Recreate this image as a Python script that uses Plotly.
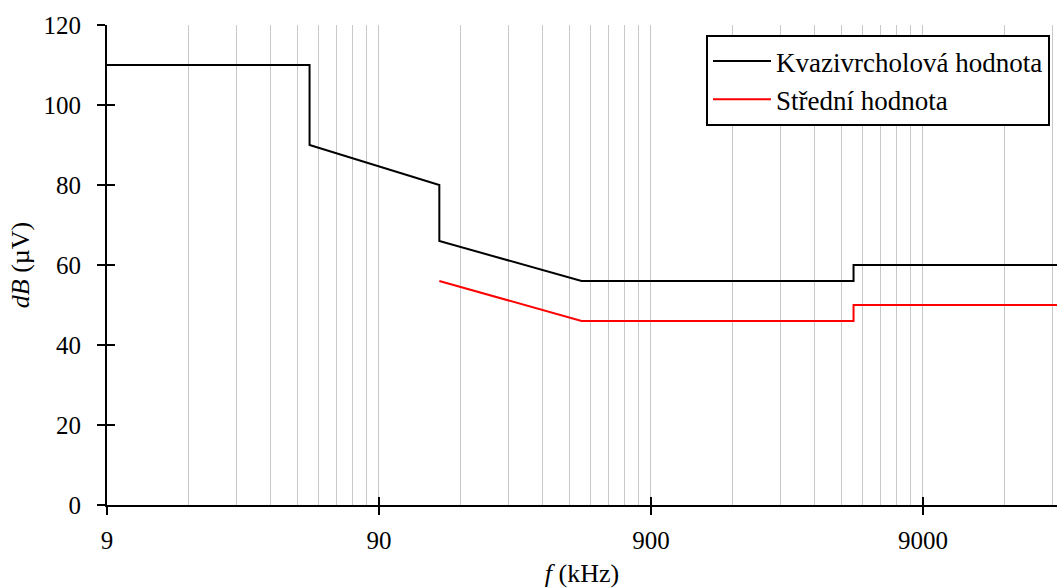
import numpy as np
import plotly.graph_objects as go

# Data (frequency in kHz, level in dB(µV))
qp_freq = [9, 50, 50, 150, 150, 500, 5000, 5000, 30000]
qp_level = [110, 110, 90, 80, 66, 56, 56, 60, 60]
avg_freq = [150, 500, 5000, 5000, 30000]
avg_level = [56, 46, 46, 50, 50]
qp_name = "Kvazivrcholová hodnota"
avg_name = "Střední hodnota"
x_major = [9, 90, 900, 9000]
y_ticks = [0, 20, 40, 60, 80, 100, 120]
x_minor = [9 * k * 10 ** n for n in range(4) for k in range(2, 10)]

FONT = "Liberation Serif"
FS = 25
xr = [np.log10(9), 4.447]
yr = [0, 120]

fig = go.Figure()
fig.add_trace(go.Scatter(x=qp_freq, y=qp_level, mode="lines", name=qp_name,
                         line=dict(color="black", width=2), legendgroup="a"))
fig.add_trace(go.Scatter(x=avg_freq, y=avg_level, mode="lines", name=avg_name,
                         line=dict(color="#ff0000", width=2), legendgroup="b",
                         xaxis="x2", yaxis="y2"))

fig.update_layout(
    width=1057, height=588,
    margin=dict(l=107, r=0, t=25, b=83, autoexpand=False),
    paper_bgcolor="white", plot_bgcolor="white",
    font=dict(family=FONT, size=FS, color="black"),
    showlegend=True,
    legend=dict(x=(706 - 107) / 950, y=1 - 10 / 480, xref="paper", yref="paper",
                xanchor="left", yanchor="top",
                bordercolor="black", borderwidth=2, bgcolor="white",
                font=dict(family=FONT, size=27), tracegroupgap=0,
                itemwidth=58),
    xaxis=dict(type="log", range=xr, tickvals=x_major, ticktext=[str(v) for v in x_major],
               showgrid=True, gridcolor="#c8c8c8", gridwidth=1,
               minor=dict(tickvals=x_minor, showgrid=True, gridcolor="#c8c8c8", gridwidth=1, ticks=""),
               showline=True, linecolor="black", linewidth=2,
               ticks="outside", ticklen=8, tickwidth=2, tickcolor="black",
               ticklabelstandoff=4,
               zeroline=False,
               title=dict(text="<i>f</i> (kHz)", font=dict(family=FONT, size=26))),
    yaxis=dict(range=yr, tickvals=y_ticks, showgrid=False,
               showline=True, linecolor="black", linewidth=2,
               ticks="outside", ticklen=8, tickwidth=2, tickcolor="black",
               ticklabelstandoff=11, automargin=True,
               zeroline=False,
               title=dict(text="<i>dB</i> (µV)", font=dict(family=FONT, size=26), standoff=6)),
    xaxis2=dict(type="log", range=xr, overlaying="x", anchor="y2", tickvals=x_major,
                showticklabels=False, showgrid=False, ticks="inside", ticklen=8,
                tickwidth=2, tickcolor="black", showline=False, zeroline=False),
    yaxis2=dict(range=yr, overlaying="y", anchor="x2", tickvals=y_ticks,
                showticklabels=False, showgrid=False, ticks="inside", ticklen=8,
                tickwidth=2, tickcolor="black", showline=False, zeroline=False),
)

fig.write_html("out.html")
